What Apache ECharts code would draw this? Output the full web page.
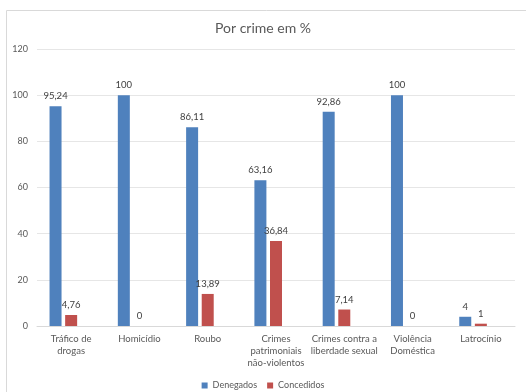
<!DOCTYPE html>
<html>
<head>
<meta charset="utf-8">
<script src="https://cdn.jsdelivr.net/npm/echarts@6/dist/echarts.min.js"></script>
<style>
html, body { margin: 0; padding: 0; background: #fff; }
#chart { width: 526px; height: 392px; }
</style>
</head>
<body>
<div id="chart"></div>
<script>
var categorias = ['Tráfico de\ndrogas', 'Homicídio', 'Roubo', 'Crimes\npatrimoniais\nnão-violentos', 'Crimes contra a\nliberdade sexual', 'Violência\nDoméstica', 'Latrocínio'];
var denegados = [95.24, 100, 86.11, 63.16, 92.86, 100, 4];
var concedidos = [4.76, 0, 13.89, 36.84, 7.14, 0, 1];
var yTicks = [0, 20, 40, 60, 80, 100, 120];

var fonte = 'Lato, "Open Sans", sans-serif';

// rótulo com vírgula decimal
function rotulo(p) {
    return String(p.value).replace('.', ',');
}

var chart = echarts.init(document.getElementById('chart'));

var option = {
    animation: false,
    textStyle: { fontFamily: fonte },
    graphic: [{
        type: 'rect',
        shape: { x: 6.5, y: 10.5, width: 540, height: 400 },
        style: { fill: 'none', stroke: '#d9d9d9', lineWidth: 1 },
        silent: true
    }],
    title: {
        text: 'Por crime em %',
        left: 'center',
        top: 16,
        textStyle: { fontSize: 14, fontWeight: 'normal', color: '#595959', fontFamily: fonte }
    },
    legend: {
        data: ['Denegados', 'Concedidos'],
        top: 376,
        itemWidth: 6,
        itemHeight: 6,
        itemGap: 10,
        icon: 'rect',
        textStyle: { fontSize: 9, color: '#595959', fontFamily: fonte }
    },
    grid: { left: 37, right: 11, top: 49, bottom: 66, containLabel: false },
    xAxis: {
        type: 'category',
        data: categorias,
        axisLine: { lineStyle: { color: '#d9d9d9' } },
        axisTick: { show: false },
        axisLabel: { interval: 0, fontSize: 9.5, color: '#595959', lineHeight: 12, margin: 7, fontFamily: fonte }
    },
    yAxis: {
        type: 'value',
        min: yTicks[0],
        max: yTicks[yTicks.length - 1],
        interval: yTicks[1] - yTicks[0],
        axisLine: { show: false },
        axisTick: { show: false },
        splitLine: { lineStyle: { color: '#e6e6e6' } },
        axisLabel: { fontSize: 9, color: '#595959', margin: 9, fontFamily: fonte }
    },
    series: [
        {
            name: 'Denegados',
            type: 'bar',
            data: denegados,
            barWidth: 12,
            barGap: '30%',
            itemStyle: { color: '#4f81bd' },
            label: { show: true, position: 'top', distance: 5, fontSize: 9.5, color: '#404040', formatter: rotulo }
        },
        {
            name: 'Concedidos',
            type: 'bar',
            data: concedidos,
            barWidth: 12,
            barGap: '30%',
            itemStyle: { color: '#c0504d' },
            label: { show: true, position: 'top', distance: 5, fontSize: 9.5, color: '#404040', formatter: rotulo }
        },
        {
            // terceira série vazia da planilha original (reserva espaço)
            name: '',
            type: 'bar',
            data: [],
            barWidth: 12,
            barGap: '30%'
        }
    ]
};

chart.setOption(option);
</script>
</body>
</html>
